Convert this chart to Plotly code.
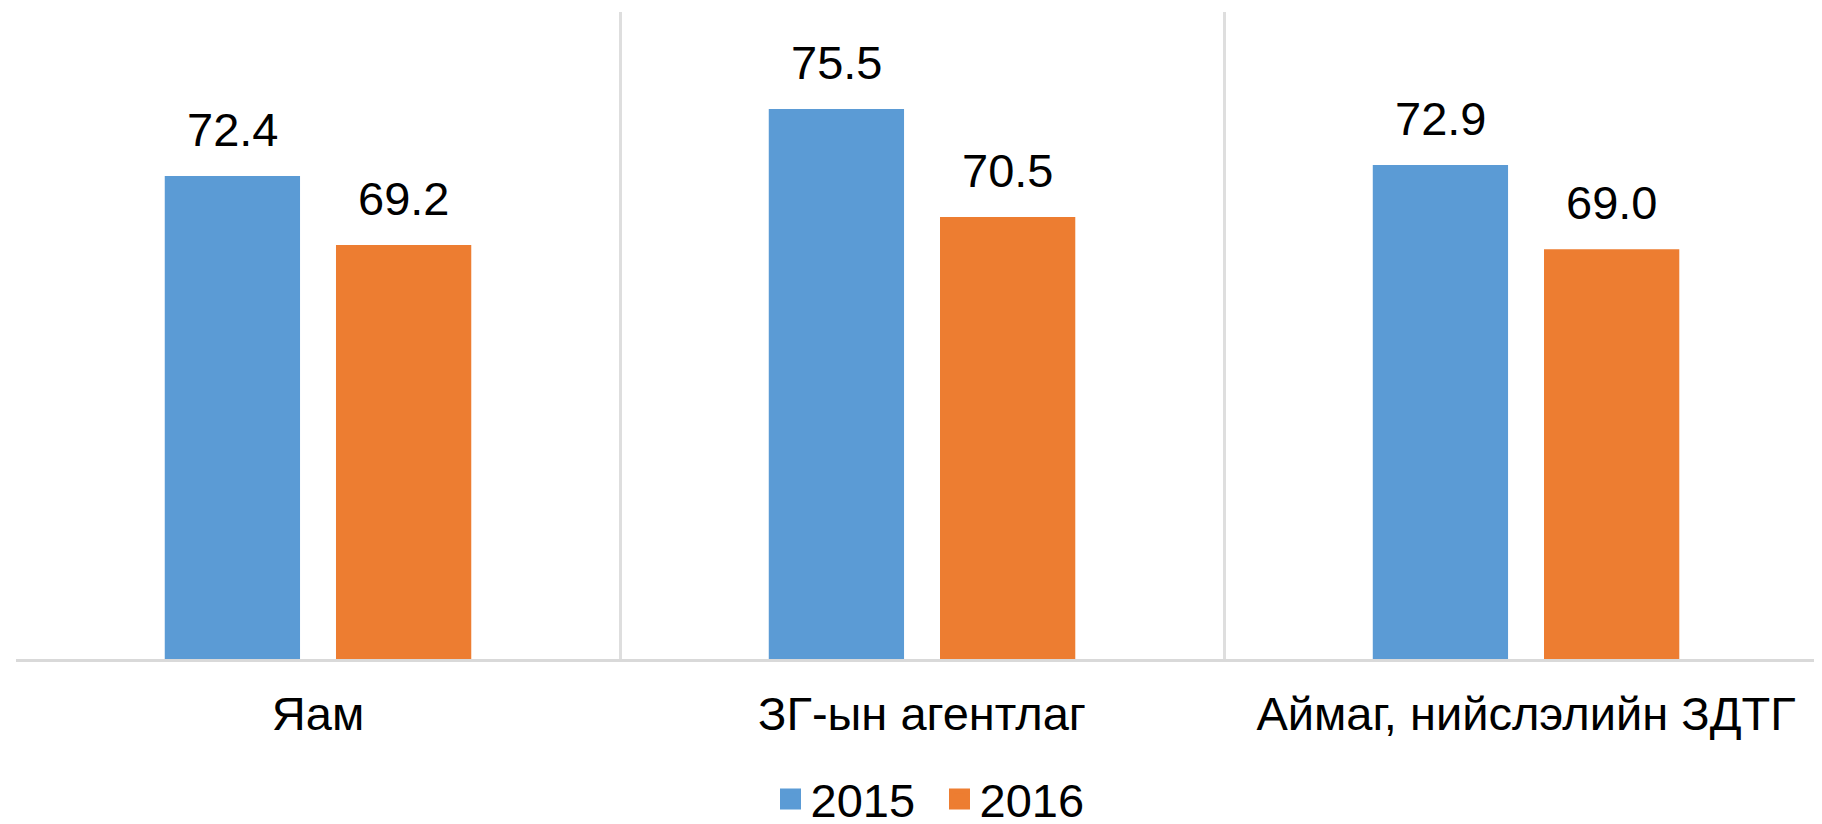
import plotly.graph_objects as go

categories = ["Яам", "ЗГ-ын агентлаг", "Аймаг, нийслэлийн ЗДТГ"]
series_names = ["2015", "2016"]
values_2015 = [72.4, 75.5, 72.9]
values_2016 = [69.2, 70.5, 69.0]
series_values = [values_2015, values_2016]
colors = ["#5B9BD5", "#ED7D31"]

FONT = "Liberation Sans, Arial, sans-serif"
FS = 47
BARGAP = 0.433
BARGROUPGAP = 0.21

fig = go.Figure()
for name, vals, col in zip(series_names, series_values, colors):
    fig.add_trace(go.Bar(
        x=categories, y=vals, name=name, marker_color=col,
        marker_line_width=0, showlegend=False, hoverinfo="x+y+name",
    ))
# legend proxies (larger square symbols)
for name, col in zip(series_names, colors):
    fig.add_trace(go.Scatter(
        x=[None], y=[None], mode="markers", name=name,
        marker=dict(symbol="square", size=16, color=col,
                    line=dict(color=col, width=5)),
        showlegend=True,
    ))

# value labels above bars
n = len(series_values)
for j, vals in enumerate(series_values):
    off = (j - (n - 1) / 2) * (1 - BARGAP) / n
    for i, v in enumerate(vals):
        fig.add_annotation(
            x=i + off, y=v, xref="x", yref="y", text=f"{v:.1f}",
            showarrow=False, yanchor="bottom", xanchor="center", yshift=18,
            font=dict(family=FONT, size=FS, color="#000000"),
        )

fig.update_layout(
    width=1814, height=816,
    margin=dict(l=8, r=0, t=4, b=165, autoexpand=False),
    paper_bgcolor="white", plot_bgcolor="white",
    barmode="group", bargap=BARGAP, bargroupgap=BARGROUPGAP,
    font=dict(family=FONT, size=FS, color="#000000"),
    legend=dict(
        orientation="h", xref="container", yref="container",
        x=0.5135, xanchor="center", y=0.03, yanchor="middle",
        entrywidth=124, entrywidthmode="pixels",
        font=dict(family=FONT, size=FS, color="#000000"),
        bgcolor="rgba(0,0,0,0)",
    ),
    showlegend=True,
)
fig.update_xaxes(
    type="category", range=[-0.5, 2.49], tickson="boundaries",
    showgrid=True, gridcolor="#DEDEDE", gridwidth=3,
    showline=True, linecolor="#D9D9D9", linewidth=3,
    ticks="", ticklabelstandoff=12,
    tickfont=dict(family=FONT, size=FS, color="#000000"),
    zeroline=False,
)
fig.update_yaxes(
    range=[50, 80], showgrid=False, showticklabels=False,
    zeroline=False, showline=False, ticks="",
)

fig.write_html("out.html")
